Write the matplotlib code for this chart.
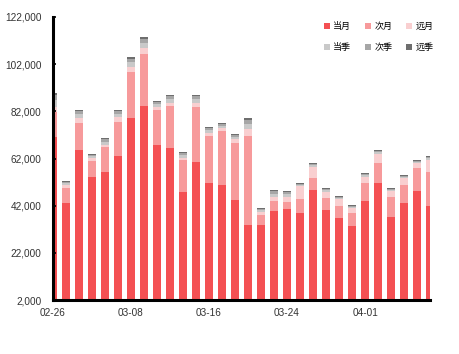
import matplotlib
matplotlib.use("Agg")
import matplotlib.pyplot as plt
import numpy as np
from matplotlib.ticker import FuncFormatter

# 日期标签（每6根柱子一个）
dates = ['02-26', '03-08', '03-16', '03-24', '04-01']
date_idx = [0, 6, 12, 18, 24]

series_names = ['当月', '次月', '远月', '当季', '次季', '远季']

dangyue = [71100, 43100, 65600, 54200, 56300, 63100, 79200, 84300, 67700, 66400,
           47800, 60500, 51600, 50800, 44400, 33800, 33800, 39700, 40600, 38900,
           48600, 40200, 36800, 33400, 44000, 51600, 37200, 43100, 48200, 41900]
ciyue = [10600, 6400, 11400, 6700, 10600, 14400, 19500, 22000, 14900, 17900,
         13600, 23300, 19900, 22900, 24200, 37700, 4200, 4300, 3000, 5900,
         5100, 5000, 5100, 5500, 7600, 8500, 8500, 7700, 9800, 14400]
yuanyue = [2100, 1300, 2200, 1300, 800, 2100, 2100, 2500, 1200, 1200,
           800, 1700, 1300, 1200, 1700, 3000, 1300, 1700, 2100, 5500,
           4700, 2600, 2900, 2100, 2600, 3800, 2500, 2900, 2100, 5100]
dangji = [2800, 700, 1600, 800, 1400, 1400, 2000, 2200, 1200, 1600,
          1200, 1600, 1200, 1000, 1000, 2200, 800, 1400, 1200, 600,
          800, 800, 600, 600, 700, 800, 600, 600, 600, 800]
ciji = [2200, 600, 1200, 600, 1100, 1100, 1500, 1700, 900, 1200,
        900, 1200, 900, 700, 700, 1700, 600, 1000, 900, 400,
        600, 600, 400, 400, 600, 600, 400, 400, 400, 600]
yuanji = [1000, 400, 600, 300, 500, 500, 700, 800, 500, 600,
          500, 600, 500, 400, 400, 800, 300, 500, 400, 300,
          300, 300, 300, 300, 300, 300, 300, 300, 300, 300]

colors = ['#F45053', '#F79A9B', '#F9CFD0', '#C9C9C9', '#A6A6A6', '#6E6E6E']

plt.rcParams['font.family'] = ['Noto Sans CJK SC', 'DejaVu Sans']

fig = plt.figure(figsize=(4.6, 3.54), dpi=100)
ax = fig.add_axes([0.115, 0.1525, 0.82, 0.7995])

x = np.arange(len(dangyue))
bottom = np.zeros(len(x))
handles = []
for name, vals, c in zip(series_names, [dangyue, ciyue, yuanyue, dangji, ciji, yuanji], colors):
    b = ax.bar(x, vals, bottom=bottom, width=0.62, color=c, label=name, linewidth=0)
    handles.append(b)
    bottom += np.array(vals)

ax.set_xlim(0, 29)
ax.set_ylim(2000, 122000)
ax.set_yticks(np.arange(2000, 122001, 20000))
ax.yaxis.set_major_formatter(FuncFormatter(lambda v, p: f'{int(v):,}'))
ax.set_xticks(date_idx)
ax.set_xticklabels(dates)

for s in ['top', 'right']:
    ax.spines[s].set_visible(False)
for s in ['left', 'bottom']:
    ax.spines[s].set_linewidth(2.2)
    ax.spines[s].set_zorder(5)

ax.tick_params(axis='y', length=2, width=1.2, direction='in', labelsize=7.2,
               pad=8, labelcolor='#333333')
ax.tick_params(axis='x', length=0, labelsize=7.2, pad=6, labelcolor='#333333')
for lab in ax.get_xticklabels() + ax.get_yticklabels():
    lab.set_family('Liberation Sans')

# 图例按行排列：当月 次月 远月 / 当季 次季 远季
order = [0, 3, 1, 4, 2, 5]
ax.legend([handles[i] for i in order], [series_names[i] for i in order],
          ncol=3, loc='upper right', bbox_to_anchor=(1.03, 1.01), frameon=False,
          fontsize=6.5, handlelength=0.6, handleheight=0.6, handletextpad=0.4,
          columnspacing=1.55, labelspacing=1.3)

plt.savefig('out.png', dpi=100)
plt.close()
